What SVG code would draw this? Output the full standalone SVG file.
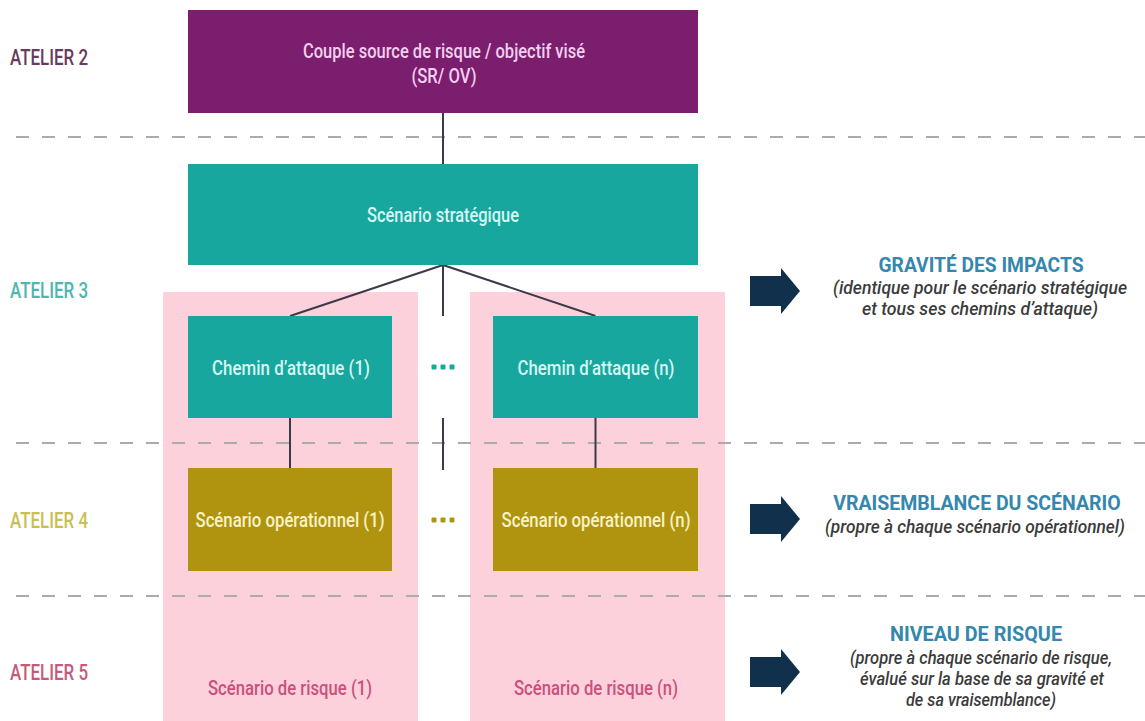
<svg xmlns="http://www.w3.org/2000/svg" width="1145" height="721" viewBox="0 0 1145 721">
<defs>
<style>
text{font-family:Roboto,"Liberation Sans",sans-serif;text-anchor:middle}
.at{font-size:22px;font-weight:500;text-anchor:start}
.bx{font-size:21px;font-weight:500}
.tt{font-size:21px;font-weight:700;fill:#3487ad}
.st{font-size:18px;font-style:italic;font-weight:500;fill:#3b3b3b}
.dash{stroke:#ababab;stroke-width:2;stroke-dasharray:13 13;fill:none}
.con{stroke:#3a3a48;stroke-width:2;fill:none}
.arr{fill:#11304c}
.pink{fill:#fdd1dc}
.purple{fill:#7b1e6d}
.teal{fill:#17a79e}
.olive{fill:#b09410}
</style>
</defs>
<rect width="1145" height="721" fill="#ffffff"/>

<g id="columns">
<rect class="pink" x="163" y="292" width="255" height="429"/>
<rect class="pink" x="470" y="292" width="255" height="429"/>
</g>

<g id="separators">
<line class="dash" x1="16" y1="137" x2="1145" y2="137"/>
<line class="dash" x1="16" y1="443" x2="1145" y2="443"/>
<line class="dash" x1="16" y1="596" x2="1145" y2="596"/>
</g>

<g id="atelier-labels">
<text class="at" x="10" y="65" fill="#6a3a60" textLength="78" lengthAdjust="spacingAndGlyphs">ATELIER 2</text>
<text class="at" x="10" y="298" fill="#4db6b0" textLength="78" lengthAdjust="spacingAndGlyphs">ATELIER 3</text>
<text class="at" x="10" y="528" fill="#c9be55" textLength="78" lengthAdjust="spacingAndGlyphs">ATELIER 4</text>
<text class="at" x="10" y="680" fill="#c45a7e" textLength="78" lengthAdjust="spacingAndGlyphs">ATELIER 5</text>
</g>

<g id="connectors">
<line class="con" x1="443" y1="113" x2="443" y2="164"/>
<line class="con" x1="443" y1="265" x2="290" y2="316"/>
<line class="con" x1="443" y1="265" x2="443" y2="316"/>
<line class="con" x1="443" y1="265" x2="595.5" y2="316"/>
<line class="con" x1="443" y1="418" x2="443" y2="470"/>
<line class="con" x1="290" y1="418" x2="290" y2="468"/>
<line class="con" x1="595.5" y1="418" x2="595.5" y2="468"/>
</g>

<g id="sr-ov">
<rect class="purple" x="188" y="10" width="510" height="103"/>
<text class="bx" x="444" y="58" fill="#f4cff0" textLength="282" lengthAdjust="spacingAndGlyphs">Couple source de risque / objectif visé</text>
<text class="bx" x="444" y="83" fill="#f4cff0" textLength="65" lengthAdjust="spacingAndGlyphs">(SR/ OV)</text>
</g>

<g id="scenario-strategique">
<rect class="teal" x="188" y="164" width="510" height="101"/>
<text class="bx" x="443" y="222" fill="#d6f6f4" textLength="152" lengthAdjust="spacingAndGlyphs">Scénario stratégique</text>
</g>

<g id="chemin-1">
<rect class="teal" x="188" y="316" width="204" height="102"/>
<text class="bx" x="291" y="375" fill="#d6f6f4" textLength="158" lengthAdjust="spacingAndGlyphs">Chemin d’attaque (1)</text>
</g>

<g id="chemin-n">
<rect class="teal" x="493" y="316" width="205" height="102"/>
<text class="bx" x="596" y="375" fill="#d6f6f4" textLength="157" lengthAdjust="spacingAndGlyphs">Chemin d’attaque (n)</text>
</g>

<g id="dots-chemin" fill="#17a79e">
<rect x="431.5" y="364.5" width="5" height="5" rx="1"/>
<rect x="440.5" y="364.5" width="5" height="5" rx="1"/>
<rect x="449.5" y="364.5" width="5" height="5" rx="1"/>
</g>

<g id="operationnel-1">
<rect class="olive" x="188" y="468" width="204" height="103"/>
<text class="bx" x="290" y="527" fill="#f8f2c4" textLength="189" lengthAdjust="spacingAndGlyphs">Scénario opérationnel (1)</text>
</g>

<g id="operationnel-n">
<rect class="olive" x="493" y="468" width="205" height="103"/>
<text class="bx" x="596" y="527" fill="#f8f2c4" textLength="189" lengthAdjust="spacingAndGlyphs">Scénario opérationnel (n)</text>
</g>

<g id="dots-operationnel" fill="#b09410">
<rect x="431.5" y="517.5" width="5" height="5" rx="1"/>
<rect x="440.5" y="517.5" width="5" height="5" rx="1"/>
<rect x="449.5" y="517.5" width="5" height="5" rx="1"/>
</g>

<g id="risque-1">
<text class="bx" x="290" y="695" fill="#c9507c" textLength="164" lengthAdjust="spacingAndGlyphs">Scénario de risque (1)</text>
</g>

<g id="risque-n">
<text class="bx" x="596" y="695" fill="#c9507c" textLength="164" lengthAdjust="spacingAndGlyphs">Scénario de risque (n)</text>
</g>

<g id="gravite">
<path class="arr" d="M750,276 H781 V268 L800,291 L781,314 V306 H750 Z"/>
<text class="tt" x="981" y="272" textLength="205" lengthAdjust="spacingAndGlyphs">GRAVITÉ DES IMPACTS</text>
<text class="st" x="980" y="294" textLength="294" lengthAdjust="spacingAndGlyphs">(identique pour le scénario stratégique</text>
<text class="st" x="980" y="315" textLength="236" lengthAdjust="spacingAndGlyphs">et tous ses chemins d’attaque)</text>
</g>

<g id="vraisemblance">
<path class="arr" d="M750,504 H781 V496 L800,519 L781,542 V534 H750 Z"/>
<text class="tt" x="977" y="510" style="font-size:19.5px">VRAISEMBLANCE DU SCÉNARIO</text>
<text class="st" x="975" y="533" textLength="300" lengthAdjust="spacingAndGlyphs">(propre à chaque scénario opérationnel)</text>
</g>

<g id="niveau">
<path class="arr" d="M750,657 H781 V649 L800,672 L781,695 V687 H750 Z"/>
<text class="tt" x="976" y="641" textLength="172" lengthAdjust="spacingAndGlyphs">NIVEAU DE RISQUE</text>
<text class="st" x="981" y="664" textLength="262" lengthAdjust="spacingAndGlyphs">(propre à chaque scénario de risque,</text>
<text class="st" x="982" y="685" textLength="244" lengthAdjust="spacingAndGlyphs">évalué sur la base de sa gravité et</text>
<text class="st" x="981" y="706" textLength="150" lengthAdjust="spacingAndGlyphs">de sa vraisemblance)</text>
</g>
</svg>
